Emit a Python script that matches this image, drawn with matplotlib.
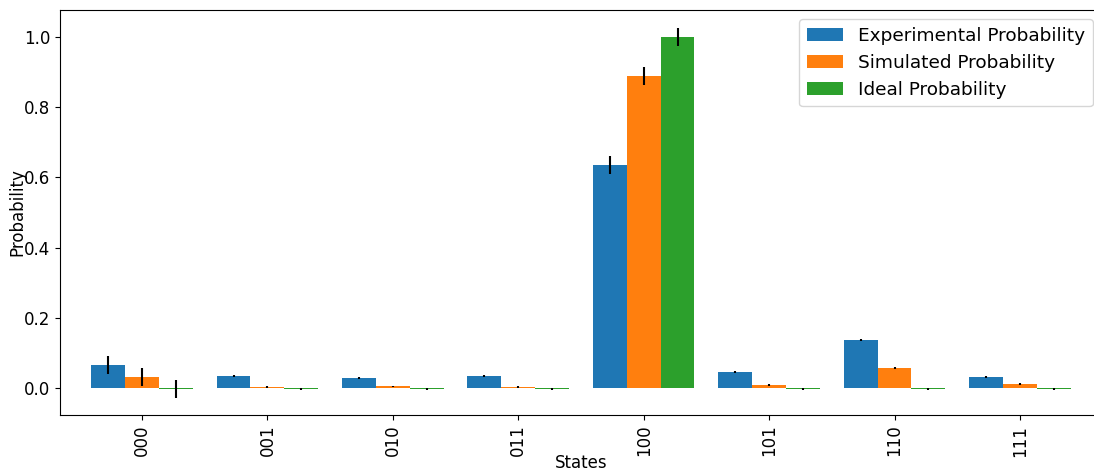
import matplotlib
matplotlib.use("Agg")
import matplotlib.pyplot as plt
import numpy as np

states = ["000", "001", "010", "011", "100", "101", "110", "111"]
experimental = [0.065, 0.034, 0.028, 0.034, 0.635, 0.046, 0.137, 0.031]
simulated = [0.031, 0.003, 0.005, 0.003, 0.889, 0.009, 0.057, 0.011]
ideal = [-0.003, -0.003, -0.003, -0.003, 1.0, -0.003, -0.003, -0.003]
experimental_err = [0.026, 0.002, 0.002, 0.002, 0.025, 0.002, 0.002, 0.002]
simulated_err = [0.026, 0.002, 0.002, 0.002, 0.025, 0.002, 0.002, 0.002]
ideal_err = [0.025, 0.002, 0.002, 0.002, 0.025, 0.002, 0.002, 0.002]

x = np.arange(len(states))
width = 0.27

fig = plt.figure(figsize=(10.94, 4.70), dpi=100)
# the axes runs a little past the right edge of the figure, as in the reference
ax = fig.add_axes([0.0548, 0.117, 0.9525, 0.8617])

ax.bar(x - width, experimental, width, yerr=experimental_err, color="tab:blue",
       ecolor="black", label="Experimental Probability")
ax.bar(x, simulated, width, yerr=simulated_err, color="tab:orange",
       ecolor="black", label="Simulated Probability")
ax.bar(x + width, ideal, width, yerr=ideal_err, color="tab:green",
       ecolor="black", label="Ideal Probability")

ax.set_xticks(x)
ax.set_xticklabels(states, rotation=90)
ax.set_xlim(-0.654, 7.654)
ax.set_ylim(-0.077, 1.077)
ax.set_xlabel("States", fontsize=12, labelpad=-2)
ax.set_ylabel("Probability", fontsize=12, labelpad=-2)
ax.tick_params(labelsize=12)
ax.legend(loc="upper right", fontsize=13.3)

fig.savefig("out.png", dpi=100)
